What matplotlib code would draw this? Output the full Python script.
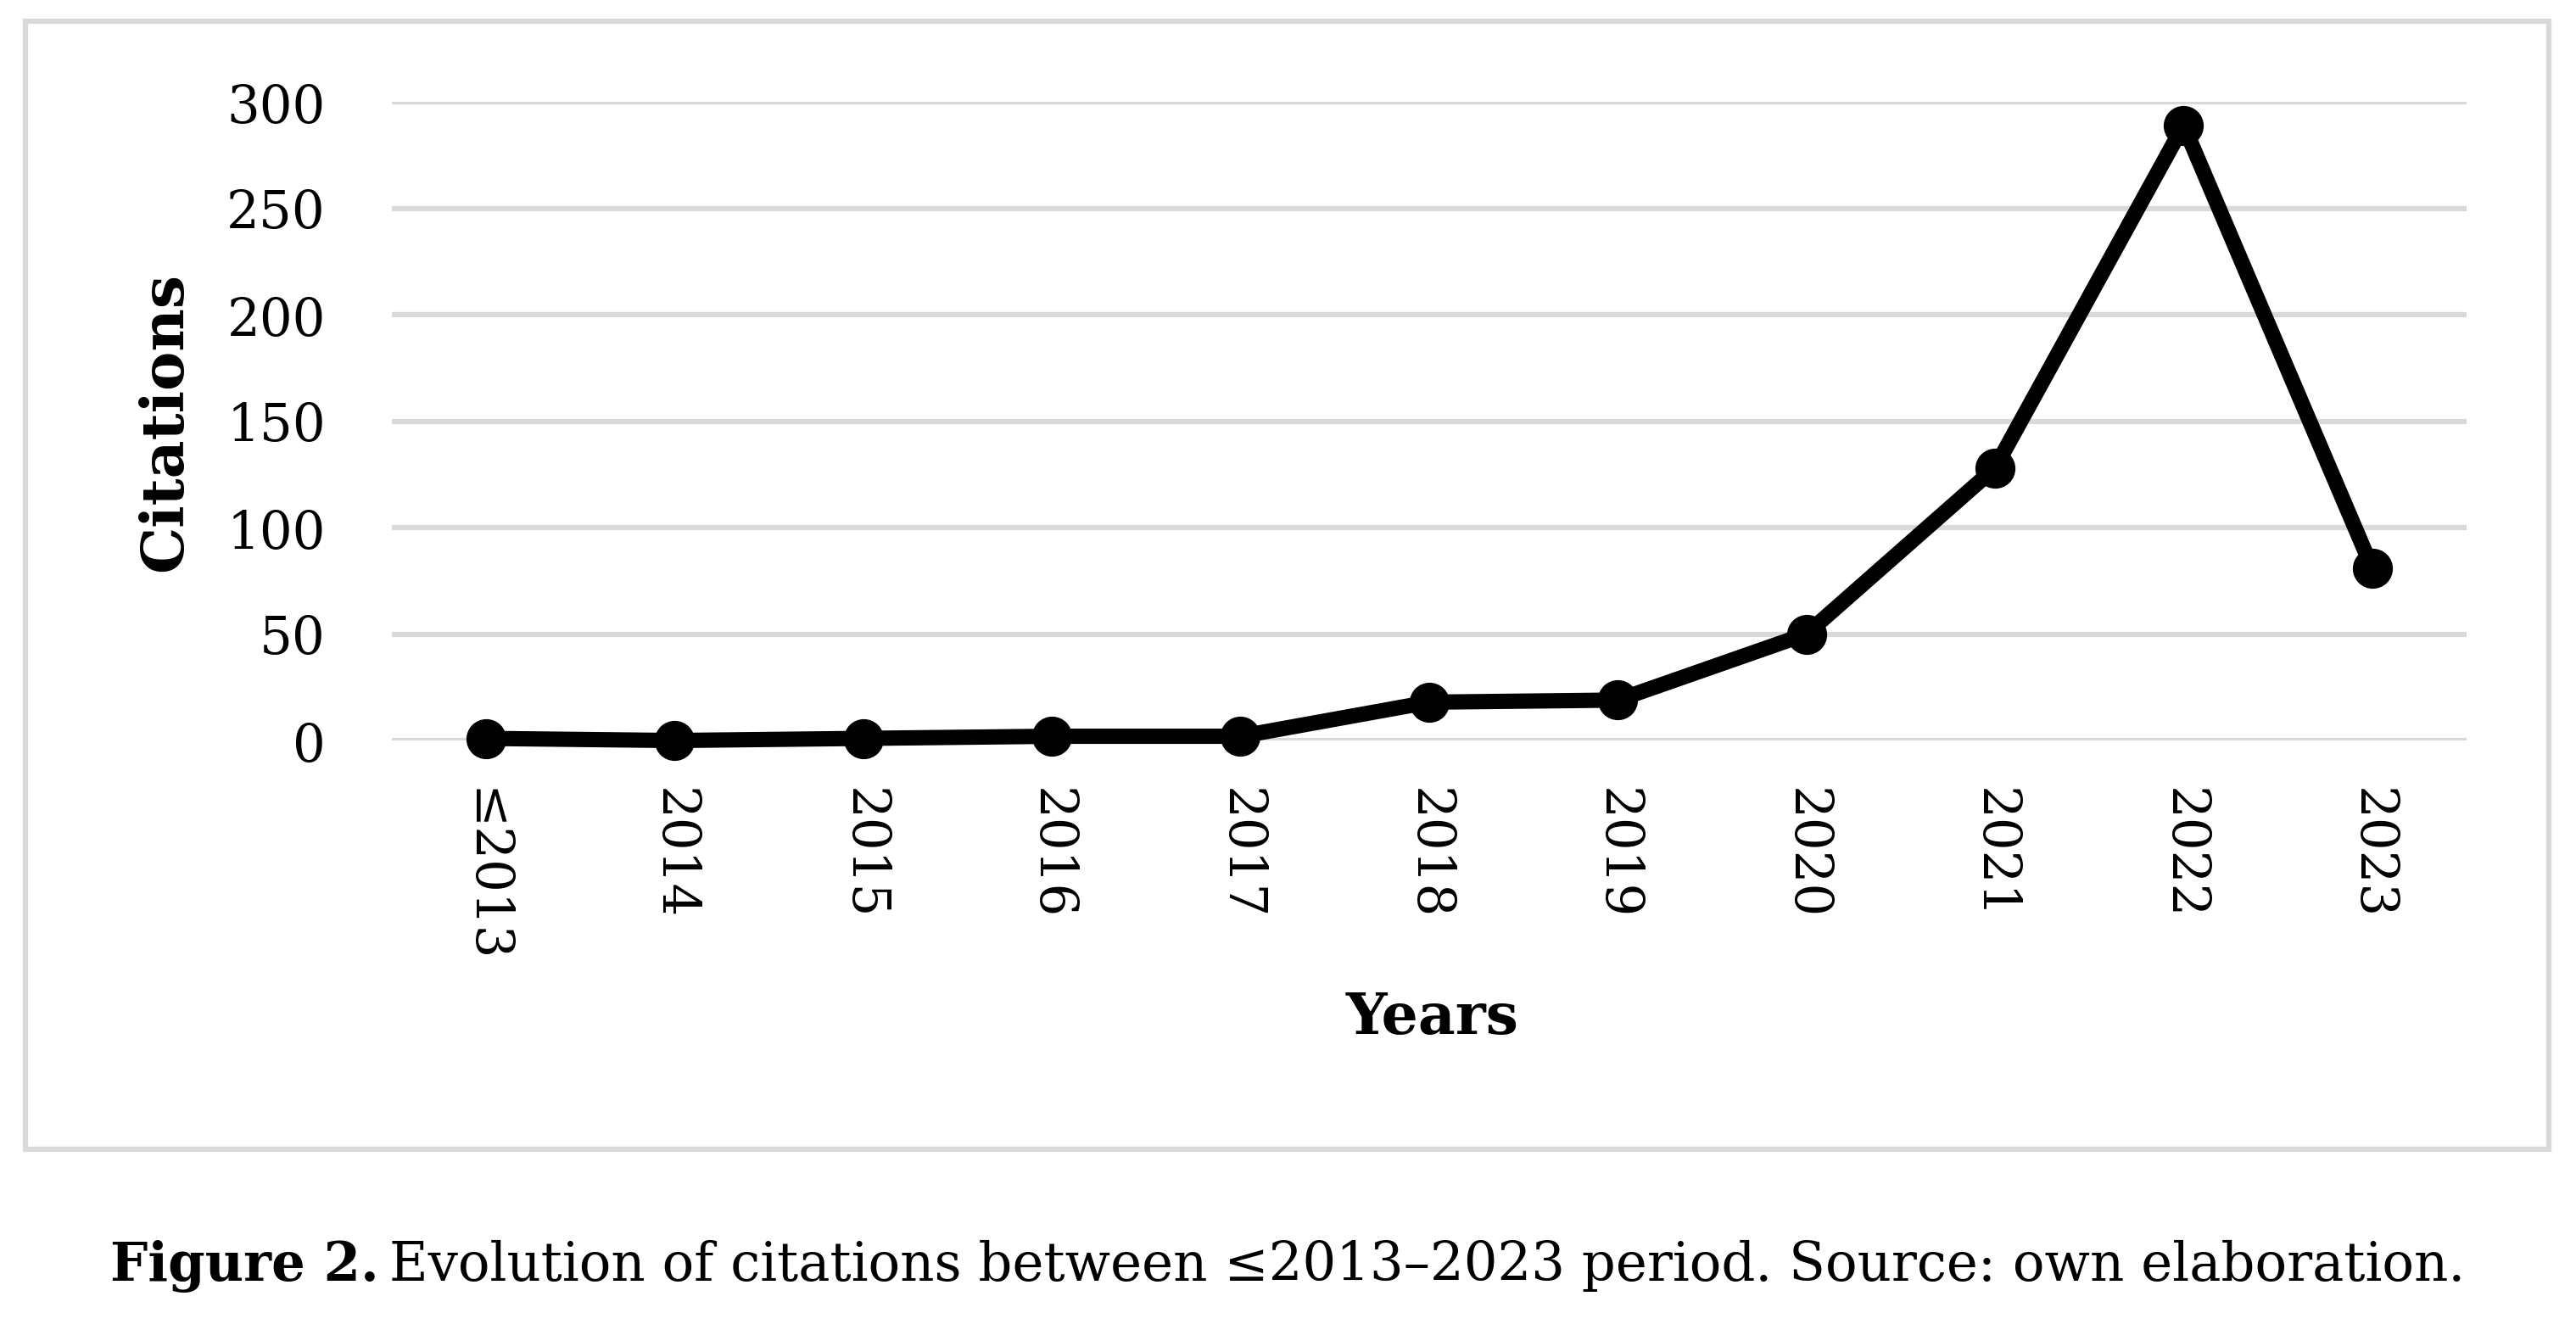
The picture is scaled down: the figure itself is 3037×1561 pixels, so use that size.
import matplotlib
matplotlib.use("Agg")
import matplotlib.pyplot as plt
from matplotlib.patches import Rectangle

# data
years = ["≤2013", "2014", "2015", "2016", "2017", "2018", "2019", "2020", "2021", "2022", "2023"]
citations = [1, 0, 1, 2, 2, 18, 19, 50, 128, 289, 81]
y_ticks = [0, 50, 100, 150, 200, 250, 300]

plt.rcParams['font.family'] = ['DejaVu Serif']

fig = plt.figure(figsize=(30.37, 15.61), dpi=100)

# light frame around the chart area
fig.patches.append(Rectangle((0.0099, 0.132), 0.9796, 0.852, transform=fig.transFigure,
                             fill=False, edgecolor='#d9d9d9', linewidth=4.5))

ax = fig.add_axes([0.152, 0.4407, 0.8055, 0.4824])
x = list(range(len(years)))
ax.plot(x, citations, color='black', linewidth=13, marker='o', markersize=33,
        clip_on=False, zorder=3)

ax.set_xlim(-0.5, len(years) - 0.5)
ax.set_ylim(0, 300)
ax.set_yticks(y_ticks)
ax.set_xticks(x)
ax.set_xticklabels(years, rotation=-90)
ax.tick_params(axis='y', length=0, pad=56, labelsize=44)
ax.tick_params(axis='x', length=0, pad=40, labelsize=44)
ax.grid(axis='y', color='#d9d9d9', linewidth=4.5)
ax.set_axisbelow(True)
for s in ax.spines.values():
    s.set_visible(False)

fig.text(0.064, 0.681, 'Citations', rotation=90, ha='center', va='center',
         fontsize=50, fontweight='bold')
fig.text(0.556, 0.231, 'Years', ha='center', va='center', fontsize=49, fontweight='bold')

# caption: bold label followed by normal text, centred as a whole
cap_y = 0.0436
cap = fig.text(0, cap_y, 'Figure 2.', ha='left', va='center', fontsize=45, fontweight='bold')
rest = fig.text(0, cap_y, 'Evolution of citations between ≤2013–2023 period. Source: own elaboration.',
                ha='left', va='center', fontsize=45)
fig.canvas.draw()
inv = fig.transFigure.inverted()
w1 = cap.get_window_extent().transformed(inv).width
w2 = rest.get_window_extent().transformed(inv).width
gap = 0.004
x0 = 0.5 - (w1 + gap + w2) / 2
cap.set_x(x0)
rest.set_x(x0 + w1 + gap)

fig.savefig('out.png', dpi=100)
